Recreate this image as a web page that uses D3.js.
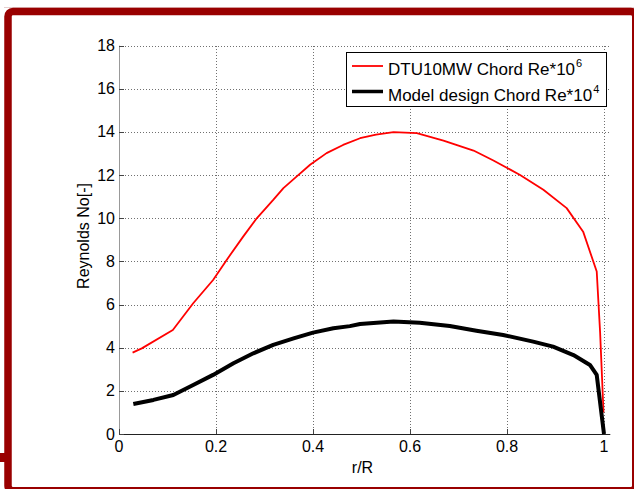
<!DOCTYPE html>
<html>
<head>
<meta charset="utf-8">
<script src="https://cdn.jsdelivr.net/npm/d3@7/dist/d3.min.js"></script>
<style>
  html, body { margin: 0; padding: 0; background: #fff; }
  svg { display: block; }
  text { font-family: "Liberation Sans", Arial, Helvetica, sans-serif; fill: #000; }
</style>
</head>
<body>
<svg id="chart" width="634" height="489"></svg>
<script>
// ---- data ----
const xTicks = [0, 0.2, 0.4, 0.6, 0.8, 1];
const yTicks = [0, 2, 4, 6, 8, 10, 12, 14, 16, 18];
const xTickLabels = ["0", "0.2", "0.4", "0.6", "0.8", "1"];
const yTickLabels = ["0", "2", "4", "6", "8", "10", "12", "14", "16", "18"];

const rR_dtu = [0.028, 0.047, 0.111, 0.153, 0.194, 0.222, 0.256, 0.284, 0.318, 0.339, 0.366, 0.394, 0.428, 0.462, 0.497, 0.530, 0.566, 0.614, 0.669, 0.731, 0.772, 0.827, 0.875, 0.923, 0.957, 0.985, 0.992, 0.999];
const re_dtu = [3.77, 3.97, 4.82, 6.06, 7.14, 8.07, 9.15, 10.0, 10.85, 11.4, 11.93, 12.48, 13.02, 13.4, 13.71, 13.88, 13.99, 13.95, 13.6, 13.14, 12.68, 12.01, 11.32, 10.47, 9.38, 7.53, 4.7, 1.0];

const rR_model = [0.0295, 0.071, 0.112, 0.153, 0.194, 0.236, 0.277, 0.318, 0.36, 0.40, 0.442, 0.476, 0.497, 0.566, 0.62, 0.682, 0.737, 0.792, 0.854, 0.895, 0.937, 0.971, 0.985, 1.0];
const re_model = [1.39, 1.58, 1.81, 2.27, 2.74, 3.28, 3.74, 4.13, 4.43, 4.7, 4.9, 5.0, 5.1, 5.21, 5.16, 5.01, 4.79, 4.59, 4.28, 4.05, 3.66, 3.2, 2.74, 0.0];

const seriesNames = ["DTU10MW Chord Re*10", "Model design Chord Re*10"];
const seriesExp = ["6", "4"];
const seriesColors = ["#ff0000", "#000000"];
const xTitle = "r/R";
const yTitle = "Reynolds No[-]";

// ---- layout ----
const svg = d3.select("#chart");
const x0 = 119, x1 = 604, yBottom = 434, yTop = 45.7;
const xMaxDomain = 1.013;
const x = d3.scaleLinear().domain([0, 1]).range([x0, x1]);
const y = d3.scaleLinear().domain([0, 18]).range([yBottom, yTop]);
const xEnd = x(xMaxDomain);

// frame
svg.append("rect").attr("x", 0).attr("y", 0).attr("width", 634).attr("height", 489).attr("fill", "#fff");
svg.append("line").attr("x1", 4).attr("x2", 634).attr("y1", 7.5).attr("y2", 7.5)
  .attr("stroke", "#e6cfcf").attr("stroke-width", 1);
svg.append("rect").attr("x", 8).attr("y", 11.5).attr("width", 627.75).attr("height", 479.25)
  .attr("rx", 5).attr("fill", "none").attr("stroke", "#990000").attr("stroke-width", 7.5);
svg.append("rect").attr("x", 0).attr("y", 453).attr("width", 6).attr("height", 9).attr("fill", "#990000");

// grid
const g = svg.append("g");
g.selectAll(".hgrid").data(yTicks).join("line")
  .attr("x1", x0).attr("x2", xEnd)
  .attr("y1", d => Math.round(y(d)) + 0.5).attr("y2", d => Math.round(y(d)) + 0.5)
  .attr("stroke", "#707070").attr("stroke-width", 1).attr("stroke-dasharray", "1,2");
g.selectAll(".vgrid").data(xTicks.filter(d => d > 0)).join("line")
  .attr("x1", d => Math.round(x(d)) + 0.5).attr("x2", d => Math.round(x(d)) + 0.5)
  .attr("y1", yBottom).attr("y2", yTop)
  .attr("stroke", "#707070").attr("stroke-width", 1).attr("stroke-dasharray", "1,2");

// axes lines
svg.append("line").attr("x1", x0 + 0.5).attr("x2", x0 + 0.5).attr("y1", yTop).attr("y2", yBottom)
  .attr("stroke", "#999").attr("stroke-width", 1);
svg.append("line").attr("x1", x0).attr("x2", xEnd).attr("y1", yBottom + 0.5).attr("y2", yBottom + 0.5)
  .attr("stroke", "#222").attr("stroke-width", 1);

// ticks (inward)
svg.selectAll(".yt").data(yTicks).join("line")
  .attr("x1", x0).attr("x2", x0 + 5)
  .attr("y1", d => Math.round(y(d)) + 0.5).attr("y2", d => Math.round(y(d)) + 0.5)
  .attr("stroke", "#444");
svg.selectAll(".xt").data(xTicks).join("line")
  .attr("x1", d => Math.round(x(d)) + 0.5).attr("x2", d => Math.round(x(d)) + 0.5)
  .attr("y1", yBottom).attr("y2", yBottom - 5)
  .attr("stroke", "#444");

// tick labels
svg.selectAll(".yl").data(yTicks).join("text")
  .attr("x", 115).attr("y", d => y(d) + 5.5)
  .attr("text-anchor", "end").attr("font-size", 16)
  .text((d, i) => yTickLabels[i]);
svg.selectAll(".xl").data(xTicks).join("text")
  .attr("x", d => x(d)).attr("y", 452)
  .attr("text-anchor", "middle").attr("font-size", 16)
  .text((d, i) => xTickLabels[i]);

// titles
svg.append("text").attr("x", (x0 + x1) / 2 + 1).attr("y", 473)
  .attr("text-anchor", "middle").attr("font-size", 16).text(xTitle);
svg.append("text").attr("transform", "translate(89,236) rotate(-90)")
  .attr("text-anchor", "middle").attr("font-size", 16).text(yTitle);

// series
const line = d3.line().x(d => x(d[0])).y(d => y(d[1])).curve(d3.curveLinear);
const dtu = rR_dtu.map((r, i) => [r, re_dtu[i]]);
const model = rR_model.map((r, i) => [r, re_model[i]]);
svg.append("path").datum(dtu).attr("d", line)
  .attr("fill", "none").attr("stroke", seriesColors[0]).attr("stroke-width", 1.8)
  .attr("stroke-linejoin", "round");
svg.append("path").datum(model).attr("d", line)
  .attr("fill", "none").attr("stroke", seriesColors[1]).attr("stroke-width", 4)
  .attr("stroke-linejoin", "round");

// legend
const lg = svg.append("g");
lg.append("rect").attr("x", 346.5).attr("y", 52.5).attr("width", 260).attr("height", 54)
  .attr("fill", "#fff").attr("stroke", "#000").attr("stroke-width", 1);
const lw = [1.8, 3.5];
const ly = [66, 91.5];
seriesNames.forEach((name, i) => {
  lg.append("line").attr("x1", 352).attr("x2", 383).attr("y1", ly[i]).attr("y2", ly[i])
    .attr("stroke", seriesColors[i]).attr("stroke-width", lw[i]);
  const t = lg.append("text").attr("x", 388).attr("y", ly[i] + 9).attr("font-size", 17);
  t.append("tspan").text(name);
  t.append("tspan").attr("font-size", 11).attr("dy", -8).attr("dx", 1).text(seriesExp[i]);
});
</script>
</body>
</html>
